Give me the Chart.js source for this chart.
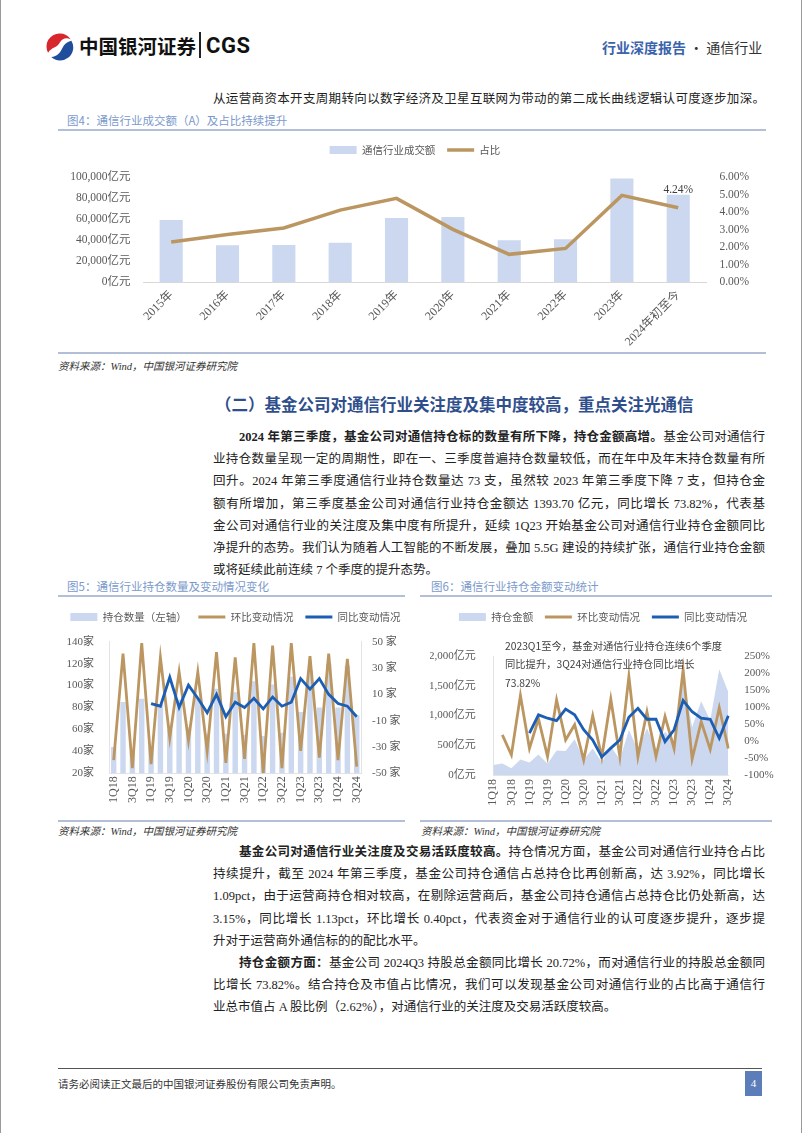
<!DOCTYPE html>
<html><head><meta charset="utf-8">
<script src="https://cdn.jsdelivr.net/npm/chart.js@4.4.1/dist/chart.umd.min.js"></script>
<style>
html,body{margin:0;padding:0;background:#fff;}
body{width:802px;height:1133px;position:relative;overflow:hidden;font-family:"Liberation Serif","Noto Sans CJK SC",serif;color:#222;}
.a{position:absolute;white-space:nowrap;}
.frameL{position:absolute;left:0;top:0;width:1px;height:1133px;background:#9a9a9a;}
.frameR{position:absolute;right:0;top:0;width:1px;height:1133px;background:#9a9a9a;}
.rule{position:absolute;height:2px;background:#B3BFD6;}
.ftitle{position:absolute;font-family:"Noto Sans CJK SC",sans-serif;font-size:11.5px;line-height:16px;color:#7B9ACC;white-space:nowrap;}
.src{position:absolute;font-size:10.5px;line-height:14px;font-style:italic;color:#333;white-space:nowrap;}
.p{position:absolute;left:213px;width:552px;font-size:12.5px;line-height:22.2px;}
.p div{text-align:justify;text-align-last:justify;height:22.2px;overflow:visible;}
.p div.last{text-align-last:left;}
.p div.ind{padding-left:26px;}
.p b{font-weight:700;}
canvas{position:absolute;}
</style>
</head><body>
<div class="frameL"></div><div class="frameR"></div>

<!-- header -->
<svg class="a" style="left:45px;top:32px" width="29" height="29" viewBox="0 0 30 30">
  <path d="M15 1.5 A13.5 13.5 0 0 0 3.2 21.5 C 7 15.5, 12.5 16.5, 15 11.5 C 17.5 7, 21.5 5, 26.5 7.5 A13.5 13.5 0 0 0 15 1.5 Z" fill="#D7262E"/>
  <path d="M27.3 9 A13.5 13.5 0 0 1 6.5 25.8 C 12.5 25.5, 16 21, 18 16.5 C 20 12.5, 23 10, 27.3 9 Z" fill="#1E4E9C"/>
</svg>
<div class="a" style="left:79px;top:32px;font-family:'Noto Sans CJK SC';font-weight:700;font-size:19.5px;line-height:28px;color:#111;">中国银河证券</div>
<div class="a" style="left:199px;top:32px;width:1.5px;height:26px;background:#222;"></div>
<div class="a" style="left:206px;top:31px;font-family:Roboto,'Liberation Sans';font-weight:700;font-size:22px;line-height:30px;color:#111;letter-spacing:0.5px;">CGS</div>
<div class="a" style="left:602px;top:37px;font-family:'Noto Sans CJK SC';font-size:14px;line-height:20px;"><span style="color:#3A63AC;font-weight:700;">行业深度报告</span><span style="color:#333;"> · 通信行业</span></div>

<div class="p" style="top:88px;"><div class="last" style="text-align-last:justify">从运营商资本开支周期转向以数字经济及卫星互联网为带动的第二成长曲线逻辑认可度逐步加深。</div></div>

<div class="ftitle" style="left:67px;top:112px;">图4：通信行业成交额（A）及占比持续提升</div>
<div class="rule" style="left:58px;top:129px;width:708px;"></div>
<canvas id="c4" width="710" height="217" style="left:60px;top:133px;"></canvas>
<div class="rule" style="left:58px;top:352px;width:708px;"></div>
<div class="src" style="left:58px;top:360px;">资料来源：Wind，中国银河证券研究院</div>

<div class="a" style="left:215px;top:393px;font-family:'Noto Sans CJK SC';font-weight:700;font-size:16.5px;line-height:22px;color:#2F4E8C;">（二）基金公司对通信行业关注度及集中度较高，重点关注光通信</div>

<div class="p" style="top:426px;">
<div class="ind"><b>2024 年第三季度，基金公司对通信持仓标的数量有所下降，持仓金额高增。</b>基金公司对通信行</div>
<div>业持仓数量呈现一定的周期性，即在一、三季度普遍持仓数量较低，而在年中及年末持仓数量有所</div>
<div>回升。2024 年第三季度通信行业持仓数量达 73 支，虽然较 2023 年第三季度下降 7 支，但持仓金</div>
<div>额有所增加，第三季度基金公司对通信行业持仓金额达 1393.70 亿元，同比增长 73.82%，代表基</div>
<div>金公司对通信行业的关注度及集中度有所提升，延续 1Q23 开始基金公司对通信行业持仓金额同比</div>
<div>净提升的态势。我们认为随着人工智能的不断发展，叠加 5.5G 建设的持续扩张，通信行业持仓金额</div>
<div class="last">或将延续此前连续 7 个季度的提升态势。</div>
</div>

<div class="ftitle" style="left:67px;top:578px;">图5：通信行业持仓数量及变动情况变化</div>
<div class="rule" style="left:58px;top:595px;width:347px;"></div>
<canvas id="c5" width="391" height="218" style="left:40px;top:600px;"></canvas>
<div class="rule" style="left:58px;top:820px;width:347px;"></div>
<div class="src" style="left:58px;top:825px;">资料来源：Wind，中国银河证券研究院</div>

<div class="ftitle" style="left:431px;top:578px;">图6：通信行业持仓金额变动统计</div>
<div class="rule" style="left:420px;top:595px;width:352px;"></div>
<canvas id="c6" width="346" height="218" style="left:430px;top:600px;"></canvas>
<div class="a" style="left:505px;top:636.5px;font-family:'Noto Sans CJK SC';font-size:10.3px;line-height:18.7px;color:#404040;white-space:normal;width:230px;">2023Q1至今，基金对通信行业持仓连续6个季度<br>同比提升，3Q24对通信行业持仓同比增长<br>73.82%</div>
<div class="rule" style="left:420px;top:820px;width:352px;"></div>
<div class="src" style="left:421px;top:825px;">资料来源：Wind，中国银河证券研究院</div>

<div class="p" style="top:841px;">
<div class="ind"><b>基金公司对通信行业关注度及交易活跃度较高。</b>持仓情况方面，基金公司对通信行业持仓占比</div>
<div>持续提升，截至 2024 年第三季度，基金公司持仓通信占总持仓比再创新高，达 3.92%，同比增长</div>
<div>1.09pct，由于运营商持仓相对较高，在剔除运营商后，基金公司持仓通信占总持仓比仍处新高，达</div>
<div>3.15%，同比增长 1.13pct，环比增长 0.40pct，代表资金对于通信行业的认可度逐步提升，逐步提</div>
<div class="last">升对于运营商外通信标的的配比水平。</div>
<div class="ind"><b>持仓金额方面：</b>基金公司 2024Q3 持股总金额同比增长 20.72%，而对通信行业的持股总金额同</div>
<div>比增长 73.82%。结合持仓及市值占比情况，我们可以发现基金公司对通信行业的占比高于通信行</div>
<div class="last">业总市值占 A 股比例（2.62%），对通信行业的关注度及交易活跃度较高。</div>
</div>

<div class="a" style="left:58px;top:1068px;width:704px;height:1px;background:#555;"></div>
<div class="a" style="left:58px;top:1076px;font-family:'Noto Sans CJK SC';font-size:10.5px;line-height:16px;color:#333;">请务必阅读正文最后的中国银河证券股份有限公司免责声明。</div>
<div class="a" style="left:745px;top:1071px;width:17px;height:25px;background:#5B7DB9;color:#fff;font-size:11px;line-height:25px;text-align:center;">4</div>

<script>
// ---------- data ----------
const years = ['2015年','2016年','2017年','2018年','2019年','2020年','2021年','2022年','2023年','2024年初至今'];
const turnover = [59000, 35000, 35300, 37500, 61000, 62000, 39700, 40700, 98500, 83000];
const turnoverShare = [2.29, 2.72, 3.09, 4.11, 4.78, 3.01, 1.58, 1.92, 4.95, 4.24];

const quarters = ['1Q18','2Q18','3Q18','4Q18','1Q19','2Q19','3Q19','4Q19','1Q20','2Q20','3Q20','4Q20',
  '1Q21','2Q21','3Q21','4Q21','1Q22','2Q22','3Q22','4Q22','1Q23','2Q23','3Q23','4Q23','1Q24','2Q24','3Q24'];
const holdCount = [44, 85, 39, 88, 45, 83, 60, 87, 62, 89, 56, 97, 56, 94, 55, 104, 54, 101, 57, 108, 76, 114, 80, 120, 80, 118, 73];
const countQoQ = [-40, 41, -46, 49, -43, 38, -23, 27, -25, 27, -33, 42, -42, 38, -39, 49, -50, 47, -46, 49, -33, 39, -38, 41, -40, 37, -45];
const countYoY = [null, null, null, null, 3, 1, 23, 0, 17, 7, -4, 10, -7, 4, 0, 7, -1, 8, 1, 4, 22, 14, 22, 10, 3, 1, -7];

const holdAmount = [168, 194, 113, 262, 209, 345, 190, 410, 405, 600, 258, 445, 215, 481, 261, 755, 418, 785, 428, 725, 550, 1680, 802, 1240, 915, 1776, 1394];
const amountQoQ = [null, 18, -41, 134, -22, 65, -46, 121, 3, 48, -56, 74, -48, 123, -46, 190, -46, 86, -46, 72, -22, 209, -53, 57, -25, 98, -22];
const amountYoY = [null, null, null, null, 23, 77, 67, 60, 94, 77, 33, 3, -47, -21, 3, 70, 96, 64, 64, -2, 33, 119, 86, 67, 64, 8, 74];

// ---------- styles ----------
const BAR = '#CBD8EF', TAN = '#BB9661', BLUE = '#1B5EB4', TICK = '#595959';
const SERIF = '"Liberation Serif", "Noto Sans CJK SC", serif';
const SANS = '"Noto Sans CJK SC", sans-serif';

const legendBox = {
  id: 'legendBox',
  afterInit(chart) {
    const lg = chart.legend;
    if (!lg) return;
    const fit = lg.fit;
    lg.fit = function () {
      fit.call(this);
      const o = chart.options.plugins.legendBox;
      if (o && o.height) this.height = o.height;
    };
  }
};
const pointLabel = {
  id: 'pointLabel',
  afterDatasetsDraw(chart) {
    const o = chart.options.plugins.pointLabel;
    if (!o || o.index == null) return;
    const meta = chart.getDatasetMeta(o.datasetIndex);
    const el = meta.data[o.index];
    const v = chart.data.datasets[o.datasetIndex].data[o.index];
    const ctx = chart.ctx;
    ctx.save();
    ctx.font = '11.5px ' + SERIF;
    ctx.fillStyle = '#404040';
    ctx.textAlign = 'center';
    ctx.textBaseline = 'middle';
    ctx.fillText(v.toFixed(2) + '%', el.x, el.y - o.offset);
    ctx.restore();
  }
};

function legendOpts() {
  return {
    position: 'top', align: 'center',
    labels: {
      usePointStyle: true, pointStyleWidth: 27, boxWidth: 27, boxHeight: 8, padding: 11.75,
      font: { size: 10.5, family: SANS }, color: TICK,
      sort: (a, b) => a.datasetIndex - b.datasetIndex
    }
  };
}
const noGrid = { display: false, drawTicks: false };

// ---------- chart 4 ----------
new Chart(document.getElementById('c4'), {
  data: {
    labels: years,
    datasets: [
      { type: 'bar', label: '通信行业成交额', data: turnover, yAxisID: 'y', backgroundColor: BAR, borderWidth: 0,
        barPercentage: 1, categoryPercentage: 0.41, order: 2, pointStyle: 'rect' },
      { type: 'line', label: '占比', data: turnoverShare, yAxisID: 'y1', borderColor: TAN, backgroundColor: TAN,
        borderWidth: 3.5, pointRadius: 0, pointBorderWidth: 3.5, tension: 0, order: 1, pointStyle: 'line' }
    ]
  },
  options: {
    responsive: false, animation: false, layout: { padding: 0 },
    plugins: { legend: legendOpts(), tooltip: { enabled: false }, legendBox: { height: 44 },
      pointLabel: { datasetIndex: 1, index: 9, offset: 18 } },
    scales: {
      x: { grid: noGrid, border: { display: true, color: '#D9D9D9' },
        ticks: { font: { size: 12, family: SERIF }, color: TICK, maxRotation: 45, minRotation: 45, padding: 6, autoSkip: false },
        afterFit(s) { s.height = 68; } },
      y: { position: 'left', min: 0, max: 100000, grid: noGrid, border: { display: false },
        ticks: { stepSize: 20000, padding: 12.5, font: { size: 11.5, family: SERIF }, color: TICK,
          callback: v => v.toLocaleString('en-US') + '亿元' },
        afterFit(s) { s.width = 83; } },
      y1: { position: 'right', min: 0, max: 6, grid: noGrid, border: { display: false },
        ticks: { stepSize: 1, padding: 13, font: { size: 11.5, family: SERIF }, color: TICK,
          callback: v => v.toFixed(2) + '%' },
        afterFit(s) { s.width = 63.6; } }
    }
  },
  plugins: [legendBox, pointLabel]
});

// ---------- chart 5 ----------
new Chart(document.getElementById('c5'), {
  data: {
    labels: quarters,
    datasets: [
      { type: 'bar', label: '持仓数量（左轴）', data: holdCount, yAxisID: 'y', backgroundColor: BAR, borderWidth: 0,
        barPercentage: 1, categoryPercentage: 0.58, order: 2, pointStyle: 'rect' },
      { type: 'line', label: '环比变动情况', data: countQoQ, yAxisID: 'y1', borderColor: TAN, backgroundColor: TAN,
        borderWidth: 2.8, pointRadius: 0, pointBorderWidth: 3, tension: 0, order: 1, pointStyle: 'line' },
      { type: 'line', label: '同比变动情况', data: countYoY, yAxisID: 'y1', borderColor: BLUE, backgroundColor: BLUE,
        borderWidth: 2.8, pointRadius: 0, pointBorderWidth: 3, tension: 0, order: 0, pointStyle: 'line' }
    ]
  },
  options: {
    responsive: false, animation: false, layout: { padding: 0 },
    plugins: { legend: legendOpts(), tooltip: { enabled: false }, legendBox: { height: 41.7 } },
    scales: {
      x: { grid: noGrid, border: { display: true, color: '#E3E3E3' },
        ticks: { font: { size: 12, family: SERIF }, color: TICK, maxRotation: 90, minRotation: 90, padding: 3, autoSkip: false,
          callback: function (v, i) { return i % 2 === 0 ? this.getLabelForValue(v) : ''; } },
        afterFit(s) { s.height = 44.7; } },
      y: { position: 'left', min: 20, max: 140, grid: noGrid, border: { display: true, color: '#E3E3E3' },
        ticks: { stepSize: 20, padding: 15, font: { size: 11, family: SERIF }, color: TICK, callback: v => v + '家' },
        afterFit(s) { s.width = 69; } },
      y1: { position: 'right', min: -50, max: 50, grid: noGrid, border: { display: true, color: '#E3E3E3' },
        ticks: { stepSize: 20, padding: 10.6, font: { size: 11, family: SERIF }, color: TICK, callback: v => v + ' 家' },
        afterFit(s) { s.width = 69.6; } }
    }
  },
  plugins: [legendBox]
});

// ---------- chart 6 ----------
new Chart(document.getElementById('c6'), {
  data: {
    labels: quarters,
    datasets: [
      { type: 'line', label: '持仓金额', data: holdAmount, yAxisID: 'y', fill: 'origin', backgroundColor: BAR,
        borderColor: BAR, borderWidth: 0, pointRadius: 0, pointBorderWidth: 0, tension: 0, order: 2, pointStyle: 'rect' },
      { type: 'line', label: '环比变动情况', data: amountQoQ, yAxisID: 'y1', borderColor: TAN, backgroundColor: TAN,
        borderWidth: 2.8, pointRadius: 0, pointBorderWidth: 3, tension: 0, order: 1, pointStyle: 'line' },
      { type: 'line', label: '同比变动情况', data: amountYoY, yAxisID: 'y1', borderColor: BLUE, backgroundColor: BLUE,
        borderWidth: 2.8, pointRadius: 0, pointBorderWidth: 3, tension: 0, order: 0, pointStyle: 'line' }
    ]
  },
  options: {
    responsive: false, animation: false, layout: { padding: 0 },
    plugins: { legend: legendOpts(), tooltip: { enabled: false }, legendBox: { height: 56 } },
    scales: {
      x: { offset: false, grid: noGrid, border: { display: true, color: '#E3E3E3' },
        ticks: { font: { size: 12, family: SERIF }, color: TICK, maxRotation: 90, minRotation: 90, padding: 4, autoSkip: false,
          callback: function (v, i) { return i % 2 === 0 ? this.getLabelForValue(v) : ''; } },
        afterFit(s) { s.height = 43; } },
      y: { position: 'left', min: 0, max: 2000, grid: noGrid, border: { display: true, color: '#E3E3E3' },
        ticks: { stepSize: 500, padding: 17.6, font: { size: 11, family: SERIF }, color: TICK,
          callback: v => v.toLocaleString('en-US') + '亿元' },
        afterFit(s) { s.width = 63.3; } },
      y1: { position: 'right', min: -100, max: 250, grid: noGrid, border: { display: false },
        ticks: { stepSize: 50, padding: 16, font: { size: 11, family: SERIF }, color: TICK, callback: v => v + '%' },
        afterFit(s) { s.width = 47.7; } }
    }
  },
  plugins: [legendBox]
});
</script>
</body></html>
